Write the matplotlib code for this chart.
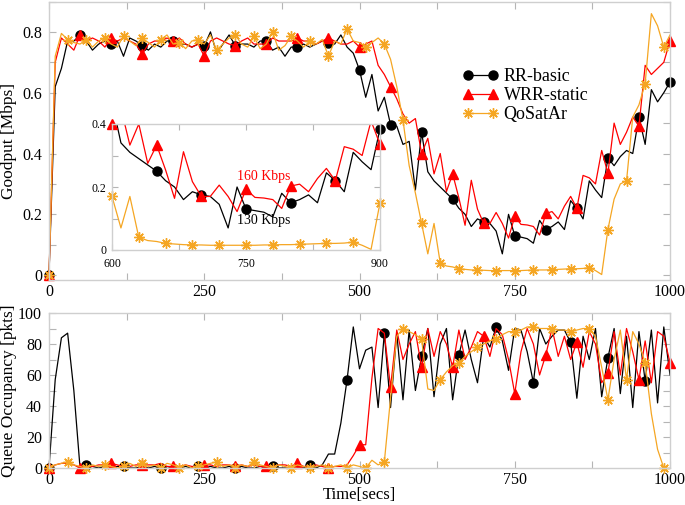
import numpy as np
import matplotlib
matplotlib.use('Agg')
import matplotlib.pyplot as plt
from matplotlib.ticker import MultipleLocator, FixedLocator, FuncFormatter

plt.rcParams['font.family'] = ['Liberation Serif', 'DejaVu Serif']

# ---------------- data ----------------
time = np.arange(0, 1001, 10)

series_names = ['RR-basic', 'WRR-static', 'QoSatAr']

goodput_rr = [
    0.0, 0.62, 0.68, 0.77, 0.77, 0.79, 0.77, 0.74, 0.76, 0.77,
    0.76, 0.77, 0.72, 0.78, 0.77, 0.755, 0.74, 0.76, 0.75, 0.77,
    0.77, 0.76, 0.76, 0.75, 0.76, 0.754, 0.80, 0.73, 0.76, 0.79,
    0.755, 0.76, 0.76, 0.75, 0.77, 0.77, 0.74, 0.75, 0.72, 0.75,
    0.75, 0.76, 0.75, 0.76, 0.77, 0.765, 0.76, 0.79, 0.75, 0.73,
    0.675, 0.585, 0.66, 0.54, 0.585, 0.495, 0.49, 0.43, 0.44, 0.28,
    0.47, 0.34, 0.31, 0.29, 0.27, 0.25, 0.22, 0.20, 0.16, 0.185,
    0.175, 0.17, 0.145, 0.07, 0.20, 0.13, 0.125, 0.12, 0.105, 0.18,
    0.15, 0.16, 0.175, 0.15, 0.245, 0.22, 0.185, 0.31, 0.28, 0.255,
    0.385, 0.36, 0.39, 0.41, 0.40, 0.52, 0.43, 0.61, 0.57, 0.60,
    0.635]

goodput_wrr = [
    0.0, 0.70, 0.78, 0.76, 0.74, 0.79, 0.77, 0.78, 0.77, 0.75,
    0.78, 0.77, 0.78, 0.77, 0.76, 0.727, 0.76, 0.77, 0.77, 0.78,
    0.77, 0.78, 0.76, 0.75, 0.76, 0.72, 0.77, 0.78, 0.77, 0.76,
    0.755, 0.77, 0.78, 0.76, 0.76, 0.76, 0.78, 0.77, 0.77, 0.77,
    0.78, 0.77, 0.77, 0.76, 0.77, 0.78, 0.77, 0.76, 0.76, 0.77,
    0.75, 0.76, 0.77, 0.69, 0.66, 0.62, 0.58, 0.53, 0.50, 0.515,
    0.40, 0.45, 0.333, 0.40, 0.275, 0.333, 0.254, 0.164, 0.312, 0.217,
    0.17, 0.17, 0.206, 0.17, 0.122, 0.193, 0.167, 0.165, 0.16, 0.132,
    0.203, 0.209, 0.185, 0.227, 0.259, 0.22, 0.328, 0.32, 0.30, 0.41,
    0.335, 0.50, 0.43, 0.47, 0.52, 0.49, 0.69, 0.66, 0.68, 0.70,
    0.77]

goodput_qos = [
    0.0, 0.72, 0.795, 0.775, 0.765, 0.76, 0.775, 0.75, 0.77, 0.78,
    0.76, 0.75, 0.787, 0.77, 0.755, 0.78, 0.765, 0.75, 0.775, 0.79,
    0.76, 0.765, 0.745, 0.77, 0.775, 0.76, 0.79, 0.74, 0.76, 0.78,
    0.79, 0.76, 0.75, 0.785, 0.745, 0.76, 0.80, 0.74, 0.755, 0.785,
    0.77, 0.75, 0.77, 0.76, 0.775, 0.72, 0.77, 0.76, 0.81, 0.77,
    0.765, 0.75, 0.765, 0.78, 0.76, 0.71, 0.62, 0.51, 0.36, 0.27,
    0.17, 0.07, 0.17, 0.04, 0.03, 0.027, 0.021, 0.019, 0.017, 0.016,
    0.016, 0.015, 0.015, 0.015, 0.015, 0.015, 0.015, 0.016, 0.016, 0.017,
    0.017, 0.018, 0.019, 0.02, 0.021, 0.021, 0.022, 0.025, 0.015, 0.002,
    0.15, 0.25, 0.30, 0.31, 0.52, 0.56, 0.63, 0.86, 0.82, 0.75,
    0.79]

queue_rr = [
    0, 57, 84, 87, 50, 0, 2, 1, 0, 1,
    0, 1, 1, 0, 0, 1, 0, 1, 0, 1,
    0, 0, 1, 0, 1, 0, 1, 0, 0, 1,
    0, 1, 0, 0, 1, 0, 1, 0, 0, 0,
    1, 0, 2, 0, 2, 9, 9, 29, 57, 91,
    64, 76, 78, 39, 87, 39, 87, 44, 89, 50,
    72, 90, 46, 80, 90, 44, 73, 89, 70, 55,
    85, 78, 91, 82, 63, 90, 89, 75, 55, 90,
    80, 85, 89, 89, 81, 45, 85, 70, 90, 46,
    71, 90, 48, 85, 39, 88, 56, 89, 42, 91,
    60]

queue_wrr = [
    0, 2, 3, 3, 2, 0, 1, 1, 2, 2,
    3, 2, 1, 1, 2, 2, 2, 2, 3, 1,
    1, 1, 2, 1, 1, 2, 2, 1, 2, 2,
    1, 2, 1, 2, 1, 1, 1, 2, 2, 1,
    3, 1, 1, 2, 1, 0, 1, 1, 2, 8,
    15, 15, 58, 90, 87, 52, 89, 70, 80, 88,
    65, 90, 72, 88, 80, 65, 89, 70, 78, 88,
    85, 72, 90, 86, 70, 48, 75, 90, 80, 60,
    73, 90, 72, 85, 70, 81, 65, 88, 80, 55,
    61, 88, 60, 90, 75, 57, 82, 55, 88, 85,
    68]

queue_qos = [
    0, 2, 3, 4, 2, 1, 0, 2, 1, 2,
    1, 0, 1, 3, 1, 3, 1, 2, 0, 3,
    2, 0, 2, 0, 1, 2, 3, 4, 1, 2,
    0, 2, 1, 4, 2, 1, 0, 2, 1, 0,
    2, 1, 0, 1, 2, 0, 1, 2, 0, 2,
    1, 0, 5, 2, 4, 45, 85, 90, 88, 86,
    83, 51, 50, 57, 62, 66, 68, 72, 75, 78,
    80, 82, 83, 86, 88, 88, 89, 91, 91, 90,
    90, 90, 89, 89, 88, 89, 90, 90, 85, 65,
    44, 70, 89, 57, 88, 80, 68, 35, 12, 0,
    np.nan]

annot_red = '160 Kbps'
annot_black = '130 Kbps'

# ---------------- styles ----------------
BLACK = '#000000'
RED = '#ff0000'
ORANGE = '#f5a623'
FRAME = '#cfcfcf'
TICK = '#b5b5b5'

styles = [
    dict(color=BLACK, marker='o', ms=6.5, mfc=BLACK, mec=BLACK),
    dict(color=RED, marker='^', ms=7, mfc=RED, mec=RED),
    dict(color=ORANGE, marker=(8, 2, 0), ms=7.5, mew=1.0, mec=ORANGE),
]

W, H = 685, 505
fig = plt.figure(figsize=(W / 100, H / 100), dpi=100)


def px_axes(x0, y0, x1, y1):
    return fig.add_axes([x0 / W, 1 - y1 / H, (x1 - x0) / W, (y1 - y0) / H])


def fmt(v, p):
    if abs(v) < 1e-9:
        return '0'
    return f'{v:g}'


def style_axes(ax, labelsize):
    for s in ax.spines.values():
        s.set_color(FRAME)
        s.set_linewidth(1.0)
    ax.tick_params(which='both', direction='in', top=True, right=True,
                   color=TICK, width=0.8, labelsize=labelsize)
    ax.tick_params(which='major', length=5)
    ax.tick_params(which='minor', length=5)
    ax.tick_params(axis='y', pad=5)
    ax.tick_params(axis='x', pad=3)
    ax.yaxis.set_major_formatter(FuncFormatter(fmt))


ax1 = px_axes(49, 1.5, 670, 280)
ax2 = px_axes(49, 313, 670, 468)
axin = px_axes(112, 124, 380, 250)

# top panel
gp = [goodput_rr, goodput_wrr, goodput_qos]
marks_top = [5, 5, 3]
lines = []
for vals, st, me, name in zip(gp, styles, marks_top, series_names):
    ln, = ax1.plot(time, vals, lw=0.9, markevery=me, clip_on=False, label=name, **st)
    lines.append(ln)
ax1.set_xlim(0, 1000)
ax1.set_ylim(-0.016, 0.9)
ax1.xaxis.set_major_locator(MultipleLocator(250))
ax1.xaxis.set_minor_locator(MultipleLocator(125))
ax1.yaxis.set_major_locator(FixedLocator([0, 0.2, 0.4, 0.6, 0.8]))
ax1.yaxis.set_minor_locator(MultipleLocator(0.1))
style_axes(ax1, 11.5)
ax1.set_ylabel('Goodput [Mbps]', fontsize=12.5)
ax1.yaxis.set_label_coords(-0.052, 0.5)

# bottom panel
qq = [queue_rr, queue_wrr, queue_qos]
marks_bot = [6, 5, 3]
for vals, st, me in zip(qq, styles, marks_bot):
    ax2.plot(time, vals, lw=0.9, markevery=me, clip_on=False, **st)
ax2.set_xlim(0, 1000)
ax2.set_ylim(0, 100)
ax2.xaxis.set_major_locator(MultipleLocator(250))
ax2.xaxis.set_minor_locator(MultipleLocator(125))
ax2.yaxis.set_major_locator(MultipleLocator(20))
ax2.yaxis.set_minor_locator(MultipleLocator(10))
style_axes(ax2, 11.5)
ax2.set_ylabel('Queue Occupancy [pkts]', fontsize=12.5)
ax2.yaxis.set_label_coords(-0.052, 0.5)
ax2.set_xlabel('Time[secs]', fontsize=12)
ax2.xaxis.set_label_coords(0.5, -0.12)

# inset
ylo, yhi = 0, 0.4
for vals, st, me in zip(gp, styles, marks_top):
    arr = np.asarray(vals, dtype=float)
    axin.plot(time, arr, lw=0.9, color=st['color'])
    inside = np.where((arr >= ylo - 1e-9) & (arr <= yhi + 1e-9) & (time >= 600) & (time <= 900), arr, np.nan)
    axin.plot(time, inside, ls='none', markevery=me, clip_on=False, **st)
axin.set_xlim(600, 900)
axin.set_ylim(ylo, yhi)
axin.xaxis.set_major_locator(FixedLocator([600, 750, 900]))
axin.xaxis.set_minor_locator(MultipleLocator(75))
axin.yaxis.set_major_locator(FixedLocator([0, 0.2, 0.4]))
axin.yaxis.set_minor_locator(MultipleLocator(0.1))
style_axes(axin, 8.5)
axin.tick_params(which='both', length=4)
axin.tick_params(axis='y', pad=4)
axin.tick_params(axis='x', pad=6)
axin.text(770, 0.232, annot_red, color=RED, ha='center', va='center', fontsize=10)
axin.text(770, 0.095, annot_black, color=BLACK, ha='center', va='center', fontsize=10)

# legend
fig.legend(handles=lines, loc='upper left', bbox_to_anchor=(455 / W, 1 - 61 / H),
           bbox_transform=fig.transFigure, frameon=False, numpoints=2,
           handlelength=2.0, handletextpad=0.3, labelspacing=0.1, fontsize=13,
           borderaxespad=0)

fig.savefig('out.png', dpi=100)
